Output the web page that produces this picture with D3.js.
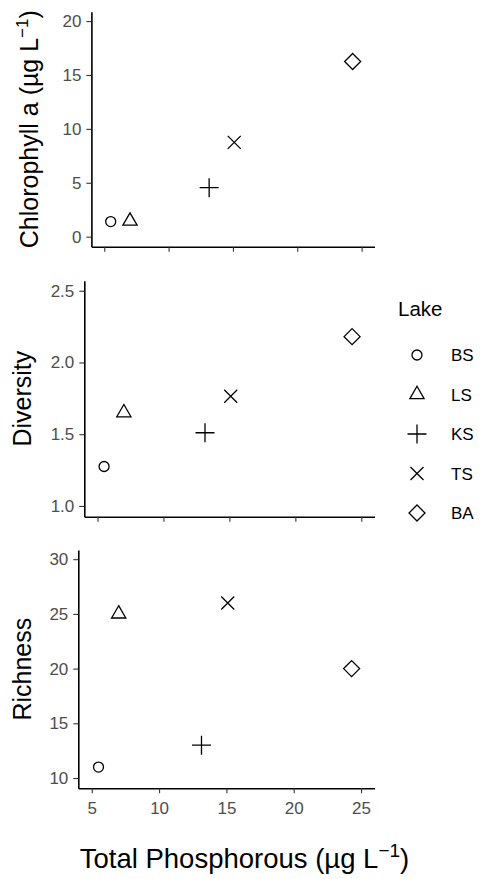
<!DOCTYPE html>
<html>
  <head>
    <meta charset="utf-8">
    <script src="https://d3js.org/d3.v7.min.js"></script>
    <style>
      body { margin: 0; background: #fff; }
      text { font-family: "Liberation Sans", Arial, Helvetica, sans-serif; }
    </style>
  </head>
  <body>
    <script>

      // data
      var lakes = ["BS", "LS", "KS", "TS", "BA"];
      var shapes = ["circle", "triangle", "plus", "cross", "diamond"];
      var phosphorous = [5.5, 7.0, 13.15, 15.1, 24.3];
      var chlorophyll = [1.4, 1.45, 4.55, 8.75, 16.25];
      var diversity = [1.275, 1.65, 1.51, 1.765, 2.18];
      var richness = [11, 25, 13, 26, 20];

      var xTicks = [5, 10, 15, 20, 25];
      var chlTicks = [0, 5, 10, 15, 20];
      var divTicks = [1.0, 1.5, 2.0, 2.5];
      var richTicks = [10, 15, 20, 25, 30];

      var w = 482, h = 879;

      var svg = d3.select("body")
        .append("svg")
        .attr("width", w)
        .attr("height", h);

      // marker outlines, like R's pch 1..5
      function shapePath(s) {
        var p = d3.path();
        if (s === "circle") {
          p.moveTo(5, 0);
          p.arc(0, 0, 5, 0, 2 * Math.PI);
        } else if (s === "triangle") {
          p.moveTo(0, -8.2);
          p.lineTo(7.1, 4.1);
          p.lineTo(-7.1, 4.1);
          p.closePath();
        } else if (s === "plus") {
          p.moveTo(-9.5, 0); p.lineTo(9.5, 0);
          p.moveTo(0, -9.5); p.lineTo(0, 9.5);
        } else if (s === "cross") {
          p.moveTo(-6.5, -6.5); p.lineTo(6.5, 6.5);
          p.moveTo(-6.5, 6.5); p.lineTo(6.5, -6.5);
        } else {
          p.moveTo(0, -8); p.lineTo(8, 0);
          p.lineTo(0, 8); p.lineTo(-8, 0);
          p.closePath();
        }
        return p.toString();
      }

      var panels = [
        {values: chlorophyll, ticks: chlTicks, fmt: d3.format("d"), domain: [-0.93, 20.87],
         left: 91.4, top: 11.7, bottom: 246.7, titleX: 38, title: "Chlorophyll a (µg L", sup: true},
        {values: diversity, ticks: divTicks, fmt: d3.format(".1f"), domain: [0.925, 2.57],
         left: 84.3, top: 280.7, bottom: 516.7, titleX: 31, title: "Diversity", sup: false},
        {values: richness, ticks: richTicks, fmt: d3.format("d"), domain: [9.06, 30.84],
         left: 78.3, top: 550, bottom: 788.3, titleX: 31, title: "Richness", sup: false}
      ];

      var right = 374.5;

      panels.forEach(function(pn, k) {
        var x = d3.scaleLinear().domain([4, 26]).range([pn.left, right]);
        var y = d3.scaleLinear().domain(pn.domain).range([pn.bottom, pn.top]);

        var g = svg.append("g");

        var yAxis = g.append("g")
          .attr("transform", `translate(${pn.left},0)`)
          .call(d3.axisLeft(y).tickValues(pn.ticks).tickFormat(pn.fmt)
            .tickSize(5).tickSizeOuter(0).tickPadding(5));

        var xAxis = g.append("g")
          .attr("transform", `translate(0,${pn.bottom})`)
          .call(d3.axisBottom(x).tickValues(xTicks)
            .tickFormat(k === 2 ? d3.format("d") : "")
            .tickSize(5).tickSizeOuter(0).tickPadding(9));

        [yAxis, xAxis].forEach(function(a) {
          a.select(".domain").attr("stroke", "#000").attr("stroke-width", 1.6);
          a.selectAll(".tick line").attr("stroke", "#333").attr("stroke-width", 1.1);
          a.selectAll(".tick text").attr("fill", "#4d4d4d").style("font-size", "17px");
        });

        // y title
        var cy = (pn.top + pn.bottom) / 2;
        var t = g.append("text")
          .attr("transform", `translate(${pn.titleX},${cy}) rotate(-90)`)
          .attr("text-anchor", "middle")
          .style("font-size", "25px")
          .attr("fill", "#000");
        t.append("tspan").text(pn.title);
        if (pn.sup) {
          t.append("tspan").attr("dy", -10).style("font-size", "17px").text("−1");
          t.append("tspan").attr("dy", 10).text(")");
        }

        // points
        g.selectAll("path.pt")
          .data(lakes)
          .enter()
          .append("path")
          .attr("class", "pt")
          .attr("transform", function(d, i) {
            return `translate(${x(phosphorous[i])},${y(pn.values[i])})`;
          })
          .attr("d", function(d, i) { return shapePath(shapes[i]); })
          .attr("fill", "none")
          .attr("stroke", "#000")
          .attr("stroke-width", 1.3);
      });

      // x title
      var xt = svg.append("text")
        .attr("x", 244.5)
        .attr("y", 868)
        .attr("text-anchor", "middle")
        .style("font-size", "27.5px")
        .attr("fill", "#000");
      xt.append("tspan").text("Total Phosphorous (µg L");
      xt.append("tspan").attr("dy", -11).style("font-size", "19px").text("−1");
      xt.append("tspan").attr("dy", 11).text(")");

      // legend
      var legend = svg.append("g").attr("class", "legend");

      legend.append("text")
        .attr("x", 398)
        .attr("y", 316)
        .style("font-size", "20.5px")
        .attr("fill", "#000")
        .text("Lake");

      var rowY = d3.scalePoint().domain(lakes).range([355, 513]);

      var rows = legend.selectAll("g.row")
        .data(lakes)
        .enter()
        .append("g")
        .attr("class", "row")
        .attr("transform", function(d) { return `translate(0,${rowY(d)})`; });

      rows.append("path")
        .attr("transform", "translate(417,0)")
        .attr("d", function(d, i) { return shapePath(shapes[i]); })
        .attr("fill", "none")
        .attr("stroke", "#000")
        .attr("stroke-width", 1.3);

      rows.append("text")
        .attr("x", 451)
        .attr("dy", "0.36em")
        .style("font-size", "17px")
        .attr("fill", "#000")
        .text(function(d) { return d; });

    </script>
  </body>
</html>
